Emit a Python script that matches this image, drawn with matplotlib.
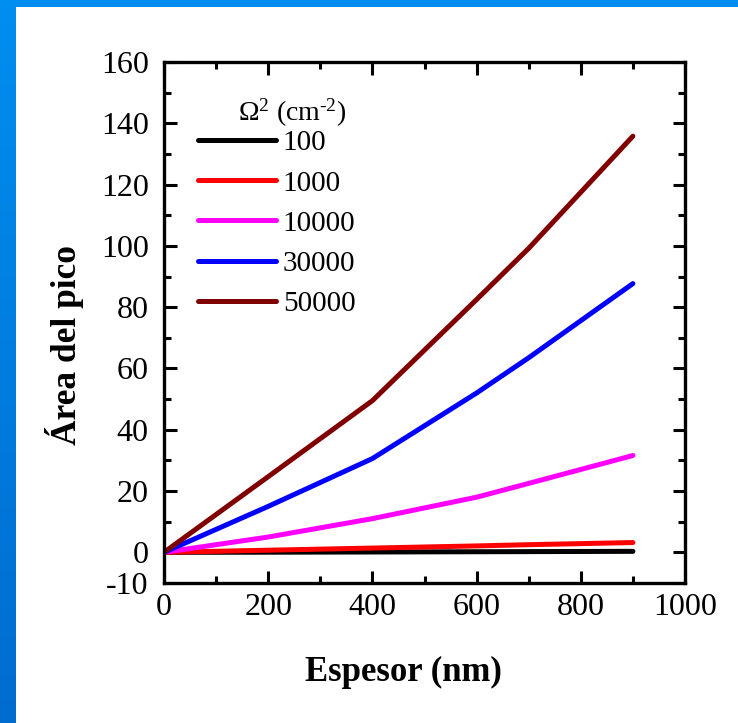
import numpy as np
import matplotlib
matplotlib.use("Agg")
import matplotlib.pyplot as plt
from matplotlib.ticker import FixedLocator, MultipleLocator

plt.rcParams['font.family'] = ['Liberation Serif', 'DejaVu Serif']
plt.rcParams['mathtext.fontset'] = 'custom'
plt.rcParams['mathtext.rm'] = 'Liberation Serif'
plt.rcParams['mathtext.it'] = 'Liberation Serif'
plt.rcParams['axes.unicode_minus'] = False

# Thickness (nm) and peak area for each Omega^2 value
espesor = [0, 200, 400, 600, 700, 900]
labels = ['100', '1000', '10000', '30000', '50000']
area_100 = [0, 0.05, 0.12, 0.2, 0.24, 0.33]
area_1000 = [0, 0.7, 1.4, 2.1, 2.5, 3.2]
area_10000 = [0, 5, 11, 18, 22.5, 31.6]
area_30000 = [0, 15, 30.6, 52, 63.5, 87.7]
area_50000 = [0, 24.7, 49.5, 82.5, 99.2, 135.8]
series = [area_100, area_1000, area_10000, area_30000, area_50000]
colors = ['#000000', '#FF0000', '#FF00FF', '#0000FF', '#800000']

y_ticks = [-10, 0, 20, 40, 60, 80, 100, 120, 140, 160]

W, H = 738, 723
fig = plt.figure(figsize=(W / 100, H / 100), dpi=100)

# Blue frame along the top and left edges
bg = fig.add_axes([0, 0, 1, 1], zorder=-10)
bg.set_xlim(0, W)
bg.set_ylim(H, 0)
bg.axis('off')
grad = np.linspace(0, 1, 256).reshape(-1, 1)
top_c = np.array([0, 142, 240]) / 255
bot_c = np.array([0, 108, 208]) / 255
img = top_c[None, None, :] * (1 - grad[..., None]) + bot_c[None, None, :] * grad[..., None]
bg.imshow(img, extent=[0, 16, H, 0], aspect='auto')
bg.add_patch(plt.Rectangle((0, 0), W, 7, color=top_c, lw=0))

ax = fig.add_axes([164 / W, 1 - 583 / H, (685 - 164) / W, (583 - 62) / H])
for y, c, lab in zip(series, colors, labels):
    ax.plot(espesor, y, color=c, lw=3.6, solid_capstyle='round',
            solid_joinstyle='round', label=lab)

ax.set_xlim(0, 1000)
ax.set_ylim(-10, 160)
ax.xaxis.set_major_locator(MultipleLocator(200))
ax.xaxis.set_minor_locator(MultipleLocator(100))
ax.yaxis.set_major_locator(FixedLocator(y_ticks))
ax.yaxis.set_minor_locator(FixedLocator(list(range(10, 160, 20))))

for s in ax.spines.values():
    s.set_linewidth(2.4)
ax.tick_params(which='both', direction='in', top=True, right=True,
               width=2.2, labelsize=23)
ax.tick_params(which='major', length=9)
ax.tick_params(which='minor', length=5)
ax.tick_params(axis='y', pad=11)
ax.tick_params(axis='x', pad=7)

fig.text(65 / W, 1 - 345 / H, 'Área del pico', rotation=90, ha='center',
         va='center', fontsize=25.5, fontweight='bold')
fig.text(403 / W, 1 - 681 / H, 'Espesor (nm)', ha='center',
         va='baseline', fontsize=25, fontweight='bold')

leg = ax.legend(loc='upper left', bbox_to_anchor=(198 / W, 1 - 130 / H),
                bbox_transform=fig.transFigure, frameon=False, fontsize=21,
                handlelength=2.67, handletextpad=0.24, labelspacing=0.47,
                borderpad=0, borderaxespad=0)
fig.text(292 / W, 1 - 113 / H, r'$\Omega^{2}$ (cm$^{\text{-}2}$)',
         ha='center', va='center', fontsize=20)

fig.savefig('out.png', dpi=100)
